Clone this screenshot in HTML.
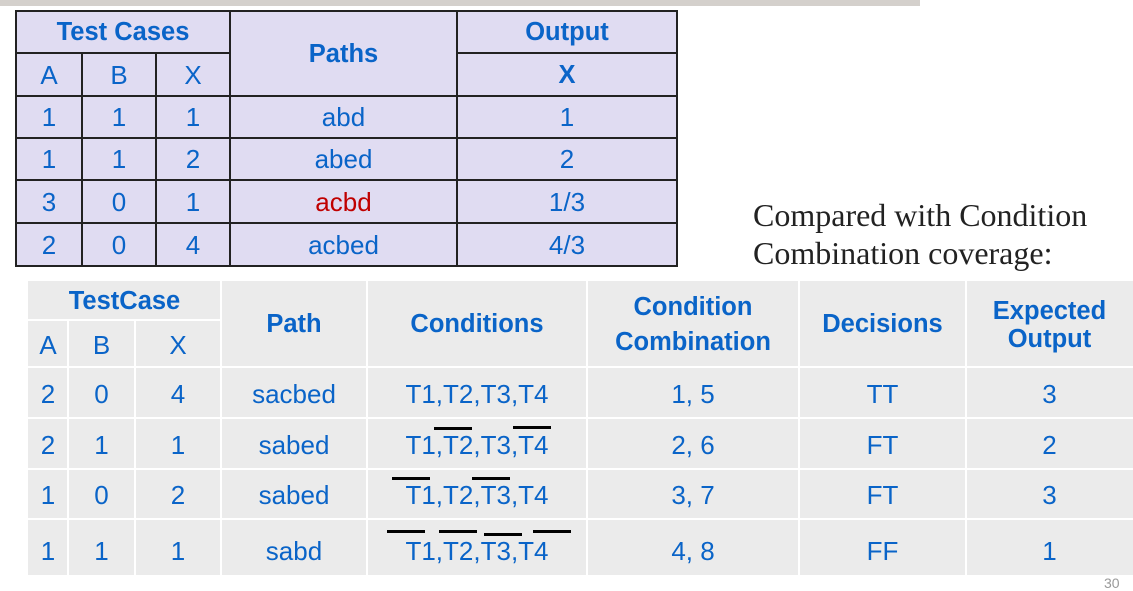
<!DOCTYPE html>
<html><head><meta charset="utf-8"><style>
body{margin:0;width:1133px;height:589px;overflow:hidden;background:#fff;position:relative;font-family:"Liberation Sans",Arial,sans-serif;}
.c{position:absolute;display:flex;align-items:center;justify-content:center;text-align:center;color:#0a64c8;font-size:26px;line-height:1.15;box-sizing:border-box;white-space:nowrap;}
.t{background:#e0dcf2;}
.b{background:#ebebeb;}
.h{font-weight:bold;font-size:25.5px;}
.l{position:absolute;}
.o{position:absolute;height:3px;background:#000;}
</style></head><body>
<div class="l" style="left:0;top:0;width:920px;height:6px;background:#d4d0cc"></div>

<!-- top table -->
<div class="l t" style="left:16px;top:11px;width:661px;height:255px"></div>
<div class="c h" style="left:16px;top:11px;width:214px;height:44px">Test Cases</div>
<div class="c h" style="left:230px;top:11px;width:227px;height:88px">Paths</div>
<div class="c h" style="left:457px;top:11px;width:220px;height:44px">Output</div>
<div class="c" style="left:16px;top:53px;width:66px;height:45px">A</div>
<div class="c" style="left:82px;top:53px;width:74px;height:45px">B</div>
<div class="c" style="left:156px;top:53px;width:74px;height:45px">X</div>
<div class="c h" style="left:457px;top:53px;width:220px;height:45px">X</div>

<div class="c" style="left:16px;top:96px;width:66px;height:44px">1</div>
<div class="c" style="left:82px;top:96px;width:74px;height:44px">1</div>
<div class="c" style="left:156px;top:96px;width:74px;height:44px">1</div>
<div class="c" style="left:230px;top:96px;width:227px;height:44px">abd</div>
<div class="c" style="left:457px;top:96px;width:220px;height:44px">1</div>

<div class="c" style="left:16px;top:138px;width:66px;height:44px">1</div>
<div class="c" style="left:82px;top:138px;width:74px;height:44px">1</div>
<div class="c" style="left:156px;top:138px;width:74px;height:44px">2</div>
<div class="c" style="left:230px;top:138px;width:227px;height:44px">abed</div>
<div class="c" style="left:457px;top:138px;width:220px;height:44px">2</div>

<div class="c" style="left:16px;top:180px;width:66px;height:45px">3</div>
<div class="c" style="left:82px;top:180px;width:74px;height:45px">0</div>
<div class="c" style="left:156px;top:180px;width:74px;height:45px">1</div>
<div class="c" style="left:230px;top:180px;width:227px;height:45px;color:#c00000">acbd</div>
<div class="c" style="left:457px;top:180px;width:220px;height:45px">1/3</div>

<div class="c" style="left:16px;top:223px;width:66px;height:45px">2</div>
<div class="c" style="left:82px;top:223px;width:74px;height:45px">0</div>
<div class="c" style="left:156px;top:223px;width:74px;height:45px">4</div>
<div class="c" style="left:230px;top:223px;width:227px;height:45px">acbed</div>
<div class="c" style="left:457px;top:223px;width:220px;height:45px">4/3</div>

<svg class="l" style="left:0;top:0" width="700" height="280">
<g stroke="#222" stroke-width="2" fill="none">
<rect x="16" y="11" width="661" height="255"/>
<line x1="16" y1="53" x2="230" y2="53"/><line x1="457" y1="53" x2="677" y2="53"/>
<line x1="16" y1="96" x2="677" y2="96"/><line x1="16" y1="138" x2="677" y2="138"/>
<line x1="16" y1="180" x2="677" y2="180"/><line x1="16" y1="223" x2="677" y2="223"/>
<line x1="82" y1="53" x2="82" y2="266"/><line x1="156" y1="53" x2="156" y2="266"/>
<line x1="230" y1="11" x2="230" y2="266"/><line x1="457" y1="11" x2="457" y2="266"/>
</g></svg>

<div class="l" style="left:753px;top:196px;font-family:'Liberation Serif',serif;font-size:32px;line-height:38px;color:#222;white-space:nowrap">Compared with Condition<br>Combination coverage:</div>

<!-- bottom table -->
<div class="l b" style="left:28px;top:281px;width:1105px;height:294px"></div>
<div class="c h" style="left:28px;top:281px;width:193px;height:41px">TestCase</div>
<div class="c" style="left:28px;top:320px;width:40px;height:51px">A</div>
<div class="c" style="left:68px;top:320px;width:67px;height:51px">B</div>
<div class="c" style="left:135px;top:320px;width:86px;height:51px">X</div>
<div class="c h" style="left:221px;top:281px;width:146px;height:88px">Path</div>
<div class="c h" style="left:367px;top:281px;width:220px;height:88px">Conditions</div>
<div class="c h" style="left:587px;top:281px;width:212px;height:88px;line-height:35px">Condition<br>Combination</div>
<div class="c h" style="left:799px;top:281px;width:167px;height:88px">Decisions</div>
<div class="c h" style="left:966px;top:281px;width:167px;height:88px;line-height:28px">Expected<br>Output</div>

<div class="c" style="left:28px;top:367px;width:40px;height:55px">2</div>
<div class="c" style="left:68px;top:367px;width:67px;height:55px">0</div>
<div class="c" style="left:135px;top:367px;width:86px;height:55px">4</div>
<div class="c" style="left:221px;top:367px;width:146px;height:55px">sacbed</div>
<div class="c" style="left:367px;top:367px;width:220px;height:55px">T1,T2,T3,T4</div>
<div class="c" style="left:587px;top:367px;width:212px;height:55px">1, 5</div>
<div class="c" style="left:799px;top:367px;width:167px;height:55px">TT</div>
<div class="c" style="left:966px;top:367px;width:167px;height:55px">3</div>

<div class="c" style="left:28px;top:418px;width:40px;height:55px">2</div>
<div class="c" style="left:68px;top:418px;width:67px;height:55px">1</div>
<div class="c" style="left:135px;top:418px;width:86px;height:55px">1</div>
<div class="c" style="left:221px;top:418px;width:146px;height:55px">sabed</div>
<div class="c" style="left:367px;top:418px;width:220px;height:55px">T1,T2,T3,T4</div>
<div class="c" style="left:587px;top:418px;width:212px;height:55px">2, 6</div>
<div class="c" style="left:799px;top:418px;width:167px;height:55px">FT</div>
<div class="c" style="left:966px;top:418px;width:167px;height:55px">2</div>

<div class="c" style="left:28px;top:469px;width:40px;height:54px">1</div>
<div class="c" style="left:68px;top:469px;width:67px;height:54px">0</div>
<div class="c" style="left:135px;top:469px;width:86px;height:54px">2</div>
<div class="c" style="left:221px;top:469px;width:146px;height:54px">sabed</div>
<div class="c" style="left:367px;top:469px;width:220px;height:54px">T1,T2,T3,T4</div>
<div class="c" style="left:587px;top:469px;width:212px;height:54px">3, 7</div>
<div class="c" style="left:799px;top:469px;width:167px;height:54px">FT</div>
<div class="c" style="left:966px;top:469px;width:167px;height:54px">3</div>

<div class="c" style="left:28px;top:519px;width:40px;height:60px;padding-top:6px">1</div>
<div class="c" style="left:68px;top:519px;width:67px;height:60px;padding-top:6px">1</div>
<div class="c" style="left:135px;top:519px;width:86px;height:60px;padding-top:6px">1</div>
<div class="c" style="left:221px;top:519px;width:146px;height:60px;padding-top:6px">sabd</div>
<div class="c" style="left:367px;top:519px;width:220px;height:60px;padding-top:6px">T1,T2,T3,T4</div>
<div class="c" style="left:587px;top:519px;width:212px;height:60px;padding-top:6px">4, 8</div>
<div class="c" style="left:799px;top:519px;width:167px;height:60px;padding-top:6px">FF</div>
<div class="c" style="left:966px;top:519px;width:167px;height:60px;padding-top:6px">1</div>

<svg class="l" style="left:0;top:0" width="1133" height="589">
<rect x="0" y="576" width="1133" height="13" fill="#fff"/>
<g stroke="#fff" stroke-width="2">
<line x1="28" y1="320" x2="221" y2="320"/>
<line x1="28" y1="367" x2="1133" y2="367"/><line x1="28" y1="418" x2="1133" y2="418"/>
<line x1="28" y1="469" x2="1133" y2="469"/><line x1="28" y1="519" x2="1133" y2="519"/>
<line x1="68" y1="320" x2="68" y2="575"/><line x1="135" y1="320" x2="135" y2="575"/>
<line x1="221" y1="281" x2="221" y2="575"/><line x1="367" y1="281" x2="367" y2="575"/>
<line x1="587" y1="281" x2="587" y2="575"/><line x1="799" y1="281" x2="799" y2="575"/>
<line x1="966" y1="281" x2="966" y2="575"/>
</g></svg>

<div class="o" style="left:434px;top:427px;width:38px"></div>
<div class="o" style="left:513px;top:426px;width:38px"></div>
<div class="o" style="left:392px;top:477px;width:38px"></div>
<div class="o" style="left:472px;top:477px;width:38px"></div>
<div class="o" style="left:387px;top:530px;width:38px"></div>
<div class="o" style="left:439px;top:530px;width:38px"></div>
<div class="o" style="left:484px;top:533px;width:38px"></div>
<div class="o" style="left:533px;top:530px;width:38px"></div>

<div class="l" style="left:1104px;top:576px;font-size:14px;color:#999;line-height:14px">30</div>
</body></html>
